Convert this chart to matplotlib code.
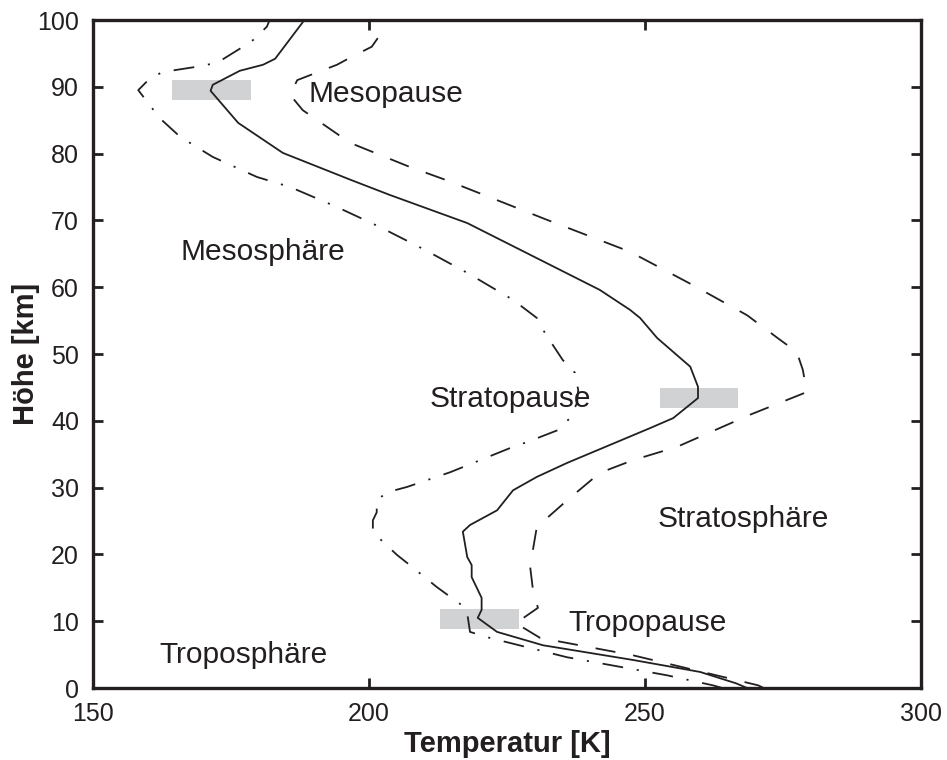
import matplotlib
matplotlib.use("Agg")
import matplotlib.pyplot as plt
from matplotlib.patches import Rectangle

plt.rcParams['font.family'] = ['Liberation Sans', 'DejaVu Sans']
plt.rcParams['lines.scale_dashes'] = False

# Mean temperature profile (solid)
h_mean = [0, 0.7, 2.4, 4.2, 6.4, 8.4, 10.5, 11.7, 13.5, 16.6, 18.4, 19.6, 23.4, 24.4,
          26.6, 29.6, 31.6, 33.7, 38.9, 40.4, 41.6, 43.4, 45.1, 48.1, 52.4, 55.4, 56.6,
          59.6, 69.6, 73.8, 76.0, 80.1, 84.6, 89.4, 90.3, 92.4, 93.3, 94.2, 100]
T_mean = [268.5, 266.5, 260.0, 247.8, 231.5, 223.2, 219.7, 220.4, 220.4, 218.6, 218.6,
          217.8, 217.0, 218.3, 223.2, 226.1, 230.4, 235.9, 250.9, 255.1, 256.9, 259.6,
          259.6, 258.2, 252.2, 249.1, 247.3, 241.8, 217.8, 203.8, 196.9, 184.4, 176.3,
          171.3, 171.7, 176.6, 180.8, 183.0, 188.3]

# Warm profile (dashed)
h_warm = [0, 0.4, 4.9, 7.5, 9.7, 12.0, 14.7, 18.1, 20.7, 24.1, 28.1, 32.2, 34.1, 36.1,
          40.9, 44.3, 47.6, 50.3, 52.1, 55.8, 60.3, 65.3, 70.1, 76.0, 78.0, 81.6, 86.5,
          88.8, 91.0, 93.3, 94.5, 96.0, 97.3, 98.5, 100]
T_warm = [271.5, 270.5, 247.8, 231.0, 226.6, 230.6, 229.7, 229.2, 229.7, 230.4, 235.9,
          241.8, 247.8, 255.8, 269.0, 279.3, 278.6, 277.5, 274.5, 268.5, 258.7, 247.3,
          232.2, 214.1, 207.4, 196.6, 188.0, 185.7, 187.0, 194.2, 196.9, 200.5, 201.6,
          202.0, 201.5]

# Cold profile (dash-dot)
h_cold = [0, 0.4, 1.9, 4.6, 7.6, 8.4, 10.6, 12.4, 13.9, 15.1, 18.4, 19.9, 21.9, 23.4,
          25.1, 26.3, 28.1, 29.3, 30.1, 32.3, 36.1, 36.8, 38.6, 40.4, 42.7, 44.6, 47.2,
          49.1, 53.1, 55.4, 58.1, 62.1, 65.6, 69.0, 72.0, 75.0, 76.5, 79.5, 82.5, 85.3,
          89.5, 91.0, 92.2, 93.0, 93.6, 95.7, 97.0, 99.0, 100]
T_cold = [264.0, 262.3, 254.0, 235.9, 221.4, 218.3, 217.9, 216.8, 214.3, 212.3, 207.4,
          205.1, 202.5, 200.7, 200.7, 201.4, 201.4, 203.3, 206.9, 214.7, 226.1, 228.6,
          234.2, 236.4, 237.7, 237.9, 237.3, 235.1, 231.9, 230.4, 226.1, 217.9, 210.1,
          202.0, 194.2, 185.7, 179.7, 171.7, 165.8, 162.1, 158.2, 160.0, 162.5, 168.8,
          172.5, 176.6, 179.0, 181.5, 182.0]

# Pause markers (grey bars)
pause_T_lo = [164.4, 252.7, 212.9]
pause_T_hi = [178.6, 266.8, 227.2]
pause_h = [89.5, 43.4, 10.4]
pause_dh = 3.0

# Region labels
labels = ['Mesopause', 'Mesosphäre', 'Stratopause', 'Stratosphäre', 'Tropopause', 'Troposphäre']
label_T = [189.1, 165.8, 211.0, 252.2, 236.1, 162.1]
label_h = [88.9, 65.3, 43.3, 25.3, 9.8, 4.9]

xticks = [150, 200, 250, 300]
yticks = [0, 10, 20, 30, 40, 50, 60, 70, 80, 90, 100]

ink = '#231f20'

fig = plt.figure(figsize=(9.47, 7.60), dpi=100)
ax = fig.add_axes([93/947, 72/760, 828/947, 668/760])

for lo, hi, hc in zip(pause_T_lo, pause_T_hi, pause_h):
    ax.add_patch(Rectangle((lo, hc - pause_dh/2), hi - lo, pause_dh,
                           facecolor='#d1d2d4', edgecolor='none', zorder=1))

for s, t, hh in zip(labels, label_T, label_h):
    ax.text(t, hh, s, fontsize=21.5, color=ink, ha='left', va='center', zorder=2)

ax.plot(T_mean, h_mean, color=ink, lw=1.3, zorder=3)
l2, = ax.plot(T_warm, h_warm, color=ink, lw=1.3, zorder=3)
l2.set_dashes([14.5, 13])
l3, = ax.plot(T_cold, h_cold, color=ink, lw=1.3, zorder=3)
l3.set_dashes([15, 10, 1.5, 10])

ax.set_xlim(150, 300)
ax.set_ylim(0, 100)
ax.set_xticks(xticks)
ax.set_yticks(yticks)
ax.tick_params(direction='in', length=7, width=2, top=True, right=True,
               labelsize=18, colors=ink, pad=10)
for sp in ax.spines.values():
    sp.set_linewidth(2.4)
    sp.set_color(ink)

ax.set_xlabel('Temperatur [K]', fontsize=21, fontweight='bold', color=ink, labelpad=3)
ax.set_ylabel('Höhe [km]', fontsize=21, fontweight='bold', color=ink, labelpad=-2)

fig.savefig('out.png', dpi=100)
